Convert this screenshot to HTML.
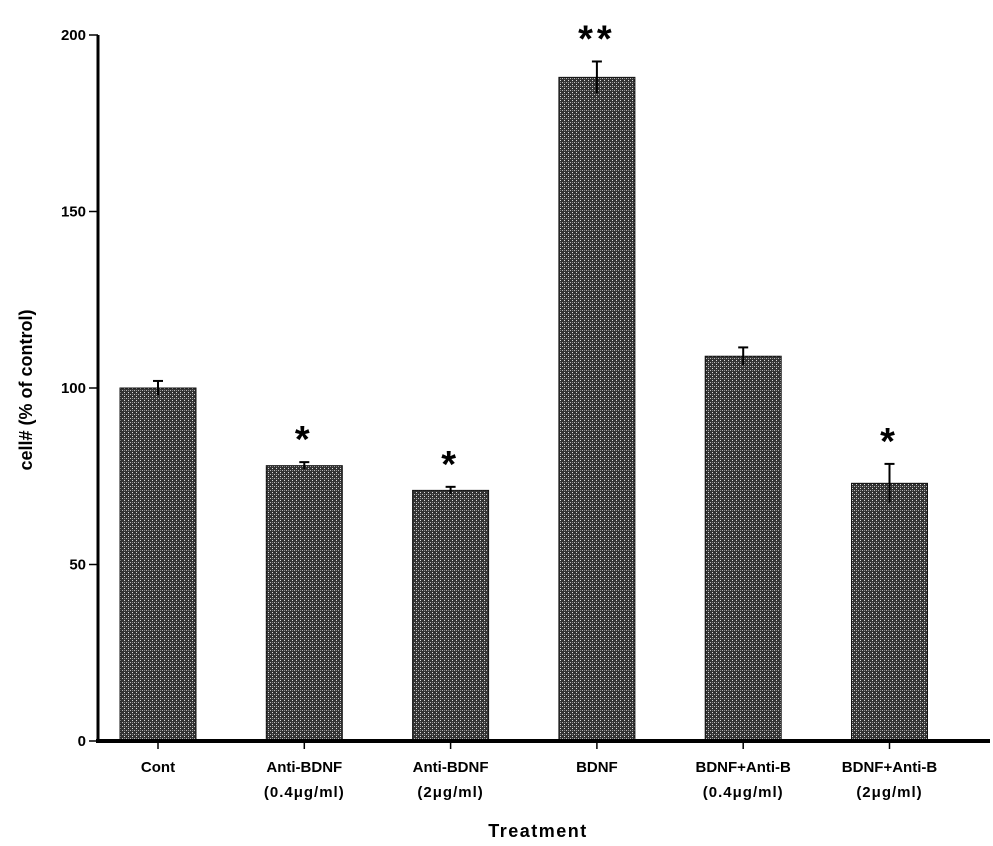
<!DOCTYPE html>
<html><head><meta charset="utf-8"><style>
body{margin:0;background:#fff}
svg{display:block;font-family:"Liberation Sans",Arial,sans-serif;font-weight:bold}
</style></head><body>
<svg id="chart" width="993" height="846">
<defs>
<pattern id="hatch" width="4" height="4" patternUnits="userSpaceOnUse">
<rect width="4" height="4" fill="#333"/>
<rect x="0" y="0" width="1" height="1" fill="#ddd"/>
<rect x="2" y="2" width="1" height="1" fill="#bbb"/>
<rect x="0" y="2" width="1" height="1" fill="#888"/>
</pattern>
</defs>
<g id="bars"></g>
<g id="axes"></g>
<text x="32" y="390" transform="rotate(-90 32 390)" text-anchor="middle" font-size="18">cell# (% of control)</text>
<text x="538" y="837" text-anchor="middle" font-size="18" letter-spacing="1.5">Treatment</text>
</svg>
<script>
const categories=["Cont","Anti-BDNF","Anti-BDNF","BDNF","BDNF+Anti-B","BDNF+Anti-B"];
const subLabels=["","(0.4\u03BCg/ml)","(2\u03BCg/ml)","","(0.4\u03BCg/ml)","(2\u03BCg/ml)"];
const values=[100,78,71,188,109,73];
const errors=[2,1,1,4.5,2.5,5.5];
const stars=["","*","*","**","","*"];
const yTicks=[0,50,100,150,200];
const NS="http://www.w3.org/2000/svg";
const y0=741,yTop=35,xL=98,xR=990;
function yS(v){return y0-(v/200)*(y0-yTop);}
function xC(i){return 158+i*146.3;}
const bw=76;
function mk(tag,attrs,parent){const e=document.createElementNS(NS,tag);for(const k in attrs)e.setAttribute(k,attrs[k]);parent.appendChild(e);return e;}
const bars=document.getElementById('bars'),axes=document.getElementById('axes');
values.forEach((v,i)=>{
 const cx=xC(i);
 const r=mk('rect',{x:cx-bw/2,y:yS(v),width:bw,height:y0-yS(v),fill:'url(#hatch)',stroke:'#111','stroke-width':1},bars);
 
 
 const e=errors[i];
 const eg=mk('g',{stroke:'#000','stroke-width':2},bars);
 
 
 mk('line',{x1:cx,x2:cx,y1:yS(v+e),y2:yS(v-e)},eg);
 mk('line',{x1:cx-5,x2:cx+5,y1:yS(v+e),y2:yS(v+e)},eg);
 if(stars[i]){
  const t=mk('text',{x:cx,y:yS(v+e)-10,'text-anchor':'middle','font-size':38,'letter-spacing':4},bars);
  t.textContent=stars[i];
  
  
 }
 mk('line',{x1:cx,x2:cx,y1:y0,y2:y0+8,stroke:'#000','stroke-width':1.5},axes);
 const l=mk('text',{x:cx,y:772,'text-anchor':'middle','font-size':15},axes);
 l.textContent=categories[i];
 
 
 if(subLabels[i]){
  const s=mk('text',{x:cx,y:797,'text-anchor':'middle','font-size':15,'letter-spacing':1},axes);
  s.textContent=subLabels[i];
  
  
 }
});
mk('line',{x1:xL,x2:xL,y1:yTop,y2:y0+2,stroke:'#000','stroke-width':3},axes);
mk('line',{x1:xL-2,x2:xR,y1:y0,y2:y0,stroke:'#000','stroke-width':4},axes);
yTicks.forEach(t=>{
 mk('line',{x1:xL-9,x2:xL,y1:yS(t),y2:yS(t),stroke:'#000','stroke-width':1.5},axes);
 const tx=mk('text',{x:xL-12,y:yS(t)+5,'text-anchor':'end','font-size':15},axes);
 tx.textContent=t;
 
 
});
</script>
</body></html>
